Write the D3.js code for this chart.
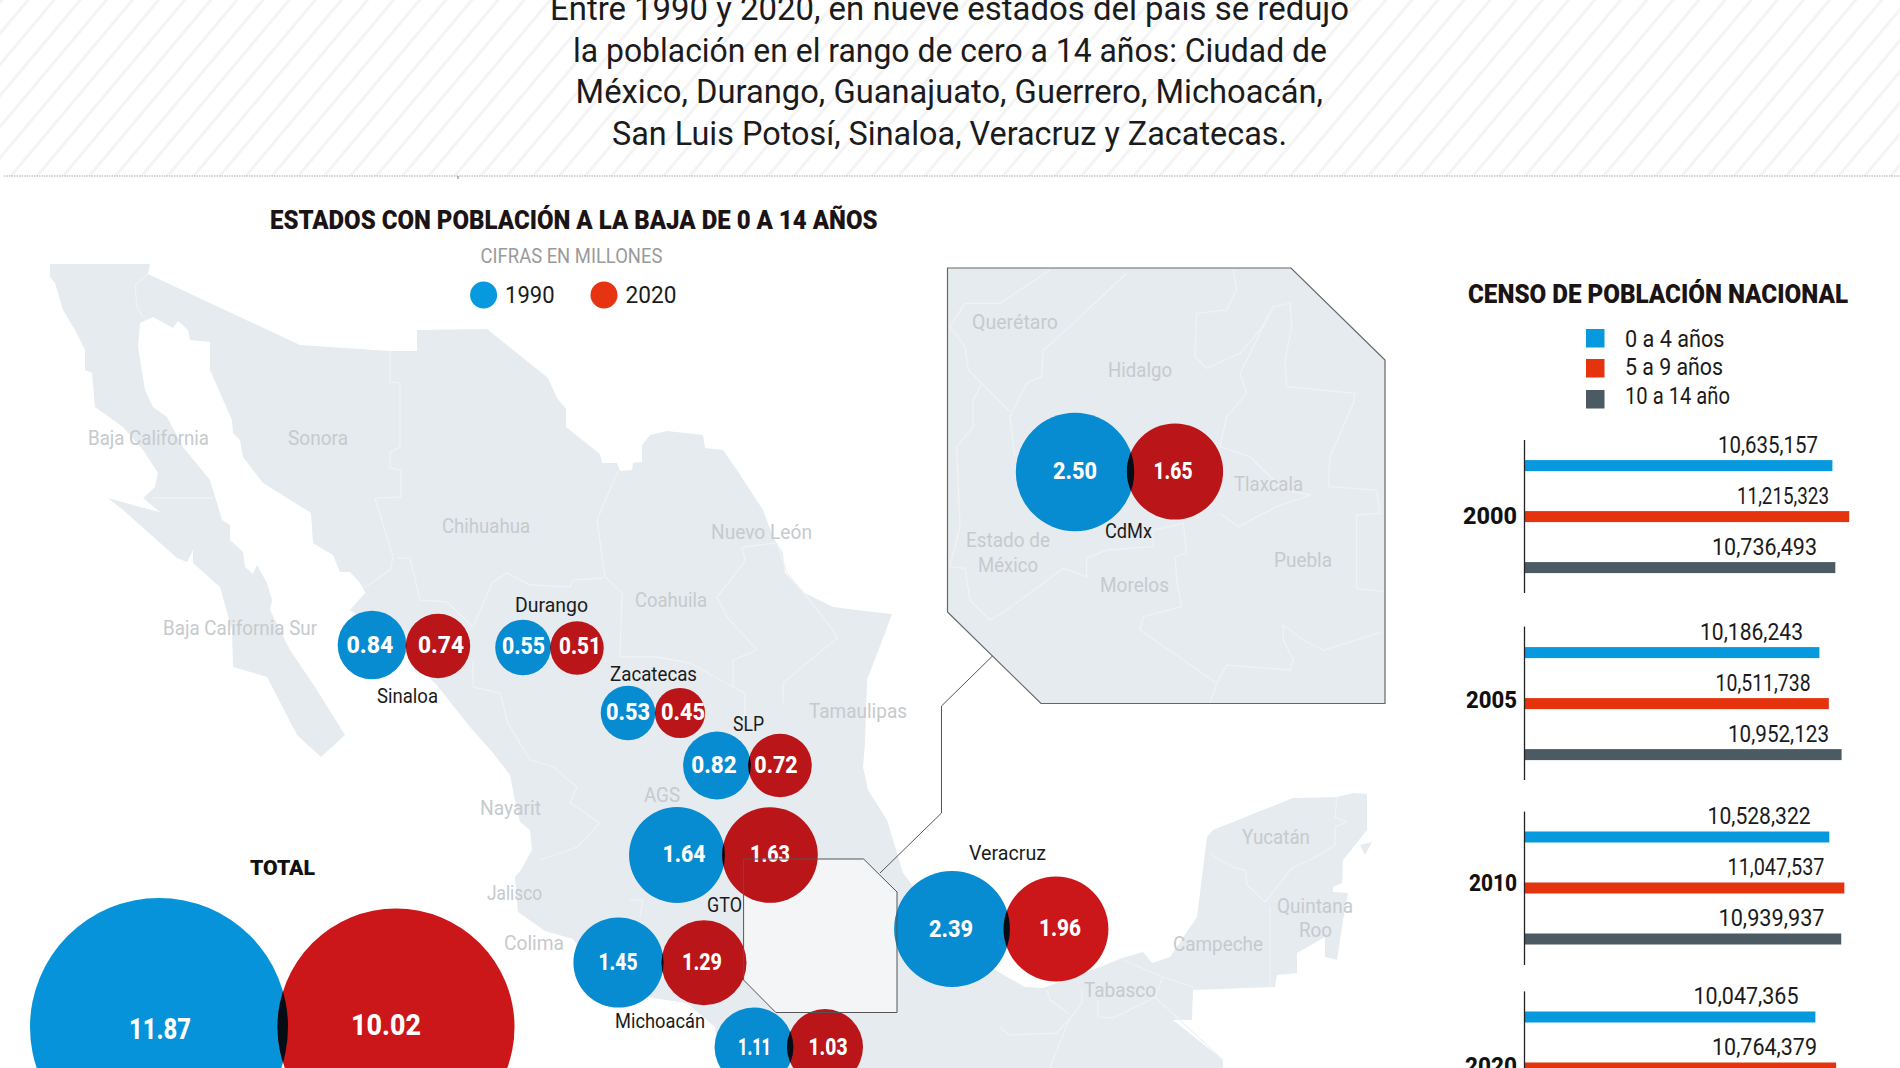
<!DOCTYPE html>
<html lang="es">
<head>
<meta charset="utf-8">
<title>Población de 0 a 14 años</title>
<script src="https://cdn.jsdelivr.net/npm/d3@7"></script>
<style>
html,body{margin:0;padding:0;background:#fff;overflow:hidden}
svg{display:block}
text{font-family:Roboto,"Noto Sans",sans-serif}
</style>
</head>
<body>
<svg id="chart" width="1900" height="1068" viewBox="0 0 1900 1068"></svg>
<script>
// ---------- DATA ----------
const states = ["Sinaloa","Durango","Zacatecas","SLP","GTO","Michoacán","Guerrero","Veracruz","CdMx","TOTAL"];
const values1990 = [0.84,0.55,0.53,0.82,1.64,1.45,1.11,2.39,2.50,11.87];
const values2020 = [0.74,0.51,0.45,0.72,1.63,1.29,1.03,1.96,1.65,10.02];

const censusYears = ["2000","2005","2010","2020"];
const ageGroups = ["0 a 4 años","5 a 9 años","10 a 14 año"];
const ages0to4 = [10635157,10186243,10528322,10047365];
const ages5to9 = [11215323,10511738,11047537,10764379];
const ages10to14 = [10736493,10952123,10939937,null];   // the 2020 bar lies below the picture

const headline = [
  "Entre 1990 y 2020, en nueve estados del país se redujo",
  "la población en el rango de cero a 14 años: Ciudad de",
  "México, Durango, Guanajuato, Guerrero, Michoacán,",
  "San Luis Potosí, Sinaloa, Veracruz y Zacatecas."
];

// ---------- LAYOUT (kept apart from the data) ----------
const blueCentres = [[372,645],[523,647.5],[628,713],[717,765.5],[677,855],[618.5,962.5],[754,1047],[952,929],[1075,472],[159,1027]];
const redCentres  = [[438,646],[577,648],[680,713],[780,765.5],[770,855],[704,962.7],[825,1047],[1056,929],[1175,471.5],[396,1027]];
const blueLabelX  = [370,523.5,628,714,684,618,754.5,951,1075,160];
const redLabelX   = [441,580,683,776,770,702,828,1060,1173,386];
const blueLabelY  = [645,646,712,765,854,961.5,1046.6,929,471,1029];
const redLabelY   = [645,646,712,765,854,961.5,1046.6,928,471,1024.5];
const blueLabelW  = [47,43,44,45.5,43,39,33,44,44,62];
const redLabelW   = [46,42,44,43.5,40,40,39,42,39,70];
const brightBlue  = [false,false,false,false,false,false,false,false,false,true];
const brightRed   = [false,false,false,false,false,false,false,true,false,true];

const stateNames = [
 ["Sinaloa",377,438,702.6],["Durango",515,588,612],["Zacatecas",610,697,681],["SLP",733,764,731],
 ["GTO",707,742,912],["Michoacán",615,705,1028],["Veracruz",969,1046,860],["CdMx",1105,1152,538]
];
const faintNames = [
 ["Baja California",88,209,445],["Sonora",288,348,445],["Chihuahua",442,530,533],["Nuevo León",711,812,539],
 ["Baja California Sur",163,317,635],["Coahuila",635,707,607],["Tamaulipas",809,907,718],["Nayarit",480,541,815],
 ["AGS",644,680,802],["Jalisco",487,542,900],["Colima",504,564,950],["Yucatán",1242,1310,844],["Quintana",1277,1353,913],
 ["Roo",1299,1332,937],["Campeche",1173,1263,951],["Tabasco",1084,1156,997],["Querétaro",972,1058,329],["Hidalgo",1108,1172,377],
 ["Tlaxcala",1234,1303,491],["Estado de",966,1050,547],["México",978,1038,572],["Morelos",1100,1169,592],["Puebla",1274,1332,567]
];

const mexicoOutline = [[50,264],[150,264],[148,274],[300,345],[390,351],[417,351],[417,330],[487,329],[548,378],[557,398],[566,409],[566,427],[600,454],[602,463],[617,463],[620,471],[632,470],[633,463],[642,462],[642,445],[650,435],[667,431],[703,435],[705,448],[723,450],[737,470],[763,510],[773,537],[783,553],[785,573],[805,593],[833,607],[873,612],[892,614],[885,633],[867,680],[865,743],[863,767],[868,790],[887,820],[903,873],[960,950],[1025,987],[1043,988],[1073,977],[1100,967],[1122,958],[1143,952],[1152,963],[1170,957],[1197,917],[1207,837],[1213,830],[1293,798],[1337,797],[1353,793],[1367,794],[1367,830],[1343,860],[1342,883],[1333,887],[1333,892],[1348,893],[1343,920],[1337,960],[1325,957],[1325,937],[1297,953],[1297,973],[1277,975],[1275,987],[1193,990],[1192,1020],[1173,1020],[1223,1060],[1223,1068],[720,1068],[715,1027],[687,1003],[652,998],[600,975],[573,939],[545,931],[518,912],[515,877],[521,870],[532,850],[530,830],[520,822],[515,800],[510,775],[493,753],[470,727],[436,684],[390,640],[350,610],[365,593],[370,602],[360,583],[350,572],[340,572],[333,555],[313,543],[311,513],[263,483],[243,457],[240,440],[233,433],[232,420],[210,370],[210,342],[190,340],[188,330],[178,321],[173,328],[153,317],[140,323],[138,347],[145,390],[153,407],[167,417],[183,447],[210,480],[222,520],[230,525],[230,540],[243,552],[245,567],[253,574],[257,565],[267,583],[272,600],[270,610],[290,650],[315,687],[345,735],[321,757],[297,735],[267,677],[233,667],[232,630],[220,587],[193,563],[193,550],[187,562],[177,558],[123,510],[108,498],[140,507],[160,512],[143,498],[155,487],[158,473],[143,450],[123,427],[95,407],[92,373],[85,370],[85,350],[75,330],[63,310],[55,283],[50,277]];
const cozumel = [[1360,845],[1372,842],[1365,855]];
const stateBorders = [
 [[148,274],[135,285],[137,307],[143,317]],[[153,498],[213,498]],
 [[390,351],[390,382],[400,383],[400,447],[390,452],[390,468],[401,470],[401,497],[375,498],[393,557]],
 [[393,557],[390,570],[365,587]],[[397,558],[410,558],[420,600],[447,602],[473,627],[492,583],[507,573],[530,585],[570,587],[573,580],[603,578]],
 [[618,471],[597,520],[605,577],[622,593],[620,657]],
 [[777,543],[742,547],[745,560],[733,577],[717,597],[727,617],[757,650],[733,660],[733,687]],
 [[777,543],[787,573],[807,597],[833,630],[837,638],[783,683],[783,703]],
 [[620,657],[657,657],[690,663],[733,687],[745,693],[745,723]],
 [[473,660],[473,687],[500,693],[508,723],[530,760],[553,767],[577,787],[570,803],[600,823],[577,847],[540,860]],
 [[630,900],[643,900],[640,917]],
 [[1210,853],[1217,858],[1235,868],[1245,870],[1247,885],[1265,902],[1292,868],[1320,855],[1335,845],[1335,827],[1347,822],[1335,817],[1337,797]],
 [[1270,907],[1270,987]],
 [[1123,960],[1163,977],[1193,987]],[[1163,977],[1155,997],[1113,1018],[1098,1017],[1098,1000]],[[1155,997],[1223,1060]],
 [[1082,990],[1082,1003],[1070,1018],[1050,1067]],[[1047,990],[1050,1000],[1068,1013]],[[1000,1027],[1010,1035],[1057,1033],[1070,1018]]
];
// Inset lines are read in the crop's own grid (1/3 px), then placed with a scale below.
const insetBorders = [
 [[330,30],[180,130],[75,130],[30,200],[75,260],[85,330],[125,370],[210,455]],
 [[560,40],[400,190],[310,270],[305,350],[260,370],[225,440],[210,470],[225,590]],
 [[880,30],[890,90],[860,150],[770,160],[765,290],[800,325],[900,280],[960,210],[1000,140],[1050,130],[1055,200],[1035,300],[1040,380],[1245,400],[1240,430],[1170,590],[1165,680],[1310,690],[1320,760],[1250,765],[1250,985],[1330,995]],
 [[1000,140],[970,200],[900,340],[920,400],[860,470],[840,560],[930,590],[1030,690],[1110,705],[1010,740],[895,800],[840,760]],
 [[30,920],[75,925],[90,1020],[150,1080],[200,1050],[370,925],[440,950],[440,895],[500,870],[640,860],[640,810],[730,790],[740,880],[705,890],[710,960],[725,1040],[610,1070],[600,1110],[830,1270],[810,1330]],
 [[1330,1115],[1150,1170],[1090,1140],[1030,1095],[1030,1140],[1060,1200],[1050,1230],[860,1215],[830,1270]],
 [[125,370],[100,420],[100,500],[50,560],[60,800],[30,920]]
];
const insetPanel = [[947.5,268],[1291,268],[1385,360],[1385,703.5],[1041,703.5],[947.5,612]];
const insetMarker = [[743.6,859],[863.6,859],[897,892],[897,1012.5],[775.8,1012.5],[743.6,980]];
const connector = [[880,873],[941.5,813],[941.5,706],[993,655.5]];

const censusCentreY = [516.6,703.6,888,1068];
const axisSpans = [[440,593],[626.6,780],[811.6,965],[991.4,1068]];
const yearBaseline = [523.5,707.7,890.6,1074];
const yearLeft = [1463,1466,1469,1465];
const valueRight = [[1818,1829,1817],[1803,1810.6,1829],[1810.6,1824.5,1824.5],[1798.5,1817,0]];
const valueWidth = [[100,92,105],[103,95,101],[103,97,106],[105,105,0]];
const seriesColors = ["#0799dd","#e4330d","#4b5a63"];

// ---------- DRAWING ----------
const svg = d3.select("#chart");
const defs = svg.append("defs");
const line = d3.line().curve(d3.curveLinear);
const closed = pts => line(pts) + "Z";

function txt(parent, s, x0, x1, y, size, fill, weight){
  return parent.append("text").attr("x",x0).attr("y",y)
    .attr("textLength",x1-x0).attr("lengthAdjust","spacingAndGlyphs")
    .attr("font-size",size).attr("font-weight",weight||400).attr("fill",fill).text(s);
}

// hatched header
const hatch = defs.append("pattern").attr("id","hatch").attr("patternUnits","userSpaceOnUse")
  .attr("width",20).attr("height",20).attr("patternTransform","rotate(40)");
hatch.append("rect").attr("width",20).attr("height",20).attr("fill","#fff");
hatch.append("rect").attr("width",3).attr("height",20).attr("fill","#f4f4f4");
svg.append("rect").attr("width",1900).attr("height",176).attr("fill","url(#hatch)");
svg.append("line").attr("x1",4).attr("x2",1900).attr("y1",176).attr("y2",176)
  .attr("stroke","#a8a8a8").attr("stroke-width",1).attr("stroke-dasharray","1.5 1");
svg.append("line").attr("x1",458).attr("x2",458).attr("y1",176).attr("y2",179).attr("stroke","#777");

const headLeft=[550,573,575.6,612], headRight=[1349,1327,1323,1287], headBase=[20,61.5,103,144.5];
headline.forEach((s,i)=>txt(svg,s,headLeft[i],headRight[i],headBase[i],34,"#1b1b1b"));

// soft edges for the faint state lines
defs.append("filter").attr("id","soft").append("feGaussianBlur").attr("stdDeviation",0.5);

// map
const mapFill = "#e6ebef", borderStroke = "#f0f2f5";
const mapG = svg.append("g");
const landG = mapG.append("g").attr("filter","url(#soft)");
landG.append("path").attr("d",closed(mexicoOutline)).attr("fill",mapFill);
landG.append("path").attr("d",closed(cozumel)).attr("fill",mapFill);
landG.selectAll(".border").data(stateBorders).join("path").attr("class","border")
  .attr("d",line).attr("fill","none").attr("stroke",borderStroke).attr("stroke-width",1.3);
mapG.append("path").attr("d",closed(insetMarker)).attr("fill","#f3f5f7");

// inset panel
mapG.append("path").attr("d",line(connector)).attr("fill","none").attr("stroke","#555").attr("stroke-width",1);
mapG.append("path").attr("d",closed(insetPanel)).attr("fill",mapFill);
const insetX = d3.scaleLinear().domain([0,450*3]).range([940,1390]);
const insetY = d3.scaleLinear().domain([0,450*3]).range([260,710]);
defs.append("clipPath").attr("id","panelClip").append("path").attr("d",closed(insetPanel));
mapG.append("g").attr("clip-path","url(#panelClip)").append("g").attr("filter","url(#soft)")
  .selectAll("path").data(insetBorders).join("path")
  .attr("d",d=>line(d.map(p=>[insetX(p[0]),insetY(p[1])])))
  .attr("fill","none").attr("stroke",borderStroke).attr("stroke-width",1.3);
mapG.append("path").attr("d",closed(insetPanel)).attr("fill","none").attr("stroke","#666").attr("stroke-width",1.2);

// faint state names
faintNames.forEach(d=>txt(svg,d[0],d[1],d[2],d[3],21,"#c6cacd"));

// bubbles
const radius = d3.scaleSqrt().domain([0,11.87]).range([0,129]);
const bubbles = svg.append("g");
states.forEach((s,i)=>{
  const [bx,by]=blueCentres[i], [rx,ry]=redCentres[i];
  const rb=radius(values1990[i]), rr=radius(values2020[i]);
  const g=bubbles.append("g");
  g.append("circle").attr("cx",bx).attr("cy",by).attr("r",rb).attr("fill",brightBlue[i]?"#0793da":"#078bd1");
  g.append("circle").attr("cx",rx).attr("cy",ry).attr("r",rr).attr("fill",brightRed[i]?"#cb161a":"#ba1518");
  defs.append("clipPath").attr("id","lens"+i).append("circle").attr("cx",rx).attr("cy",ry).attr("r",rr);
  g.append("circle").attr("cx",bx).attr("cy",by).attr("r",rb).attr("fill","#050d14").attr("clip-path",`url(#lens${i})`);
  const size = i===9 ? 29 : 23;
  txt(g,d3.format(".2f")(values1990[i]),blueLabelX[i]-blueLabelW[i]/2,blueLabelX[i]+blueLabelW[i]/2,blueLabelY[i]+size*0.36,size,"#fff",800);
  txt(g,d3.format(".2f")(values2020[i]),redLabelX[i]-redLabelW[i]/2,redLabelX[i]+redLabelW[i]/2,redLabelY[i]+size*0.36,size,"#fff",800);
});
// marker frame above the bubbles
svg.append("path").attr("d",closed(insetMarker)).attr("fill","none").attr("stroke","#555").attr("stroke-width",1);
stateNames.forEach(d=>txt(svg,d[0],d[1],d[2],d[3],21,"#1b1b1b"));
txt(svg,"TOTAL",250,315,875,21,"#111",900);

// left titles and legend
txt(svg,"ESTADOS CON POBLACIÓN A LA BAJA DE 0 A 14 AÑOS",270,877.5,229,25,"#1c1414",900);
txt(svg,"CIFRAS EN MILLONES",480.6,662.4,263,21,"#9a9a9a");
const yearLegend=[["1990","#0799dd",483.6,505,554.5],["2020","#e63312",604,625.5,676.4]];
yearLegend.forEach(d=>{
  svg.append("circle").attr("cx",d[2]).attr("cy",295).attr("r",13.5).attr("fill",d[1]);
  txt(svg,d[0],d[3],d[4],303,24,"#1b1b1b");
});

// census bars
txt(svg,"CENSO DE POBLACIÓN NACIONAL",1468,1848,302.5,25,"#1c1414",900);
const legendTop=[329,359,390], legendBase=[346.7,375,404], legendRight=[1724.5,1723,1730];
ageGroups.forEach((s,i)=>{
  svg.append("rect").attr("x",1586).attr("y",legendTop[i]).attr("width",18.5).attr("height",18.5).attr("fill",seriesColors[i]);
  txt(svg,s,1625,legendRight[i],legendBase[i],24,"#1b1b1b");
});
const barX = d3.scaleLinear().domain([0,10635157]).range([1524.5,1832.4]);
const inner = d3.scalePoint().domain(ageGroups).range([-51,51]);
const bars = svg.append("g");
const seriesValues=[ages0to4,ages5to9,ages10to14];
censusYears.forEach((y,yi)=>{
  const g=bars.append("g").attr("transform",`translate(0,${censusCentreY[yi]})`);
  bars.append("line").attr("x1",barX(0)).attr("x2",barX(0)).attr("y1",axisSpans[yi][0]).attr("y2",axisSpans[yi][1])
    .attr("stroke","#222").attr("stroke-width",1.3);
  txt(bars,y,yearLeft[yi],1517,yearBaseline[yi],24,"#111",800);
  const rows=ageGroups.map((a,k)=>({a,k,v:seriesValues[k][yi]})).filter(d=>d.v!==null);
  g.selectAll("rect").data(rows).join("rect")
    .attr("x",barX(0)).attr("y",d=>inner(d.a)-5.5).attr("height",11)
    .attr("width",d=>barX(d.v)-barX(0)).attr("fill",d=>seriesColors[d.k]);
  rows.forEach(d=>{
    const r=valueRight[yi][d.k], w=valueWidth[yi][d.k];
    txt(g,d3.format(",")(d.v),r-w,r,inner(d.a)-13,23,"#1b1b1b");
  });
});
</script>
</body>
</html>
